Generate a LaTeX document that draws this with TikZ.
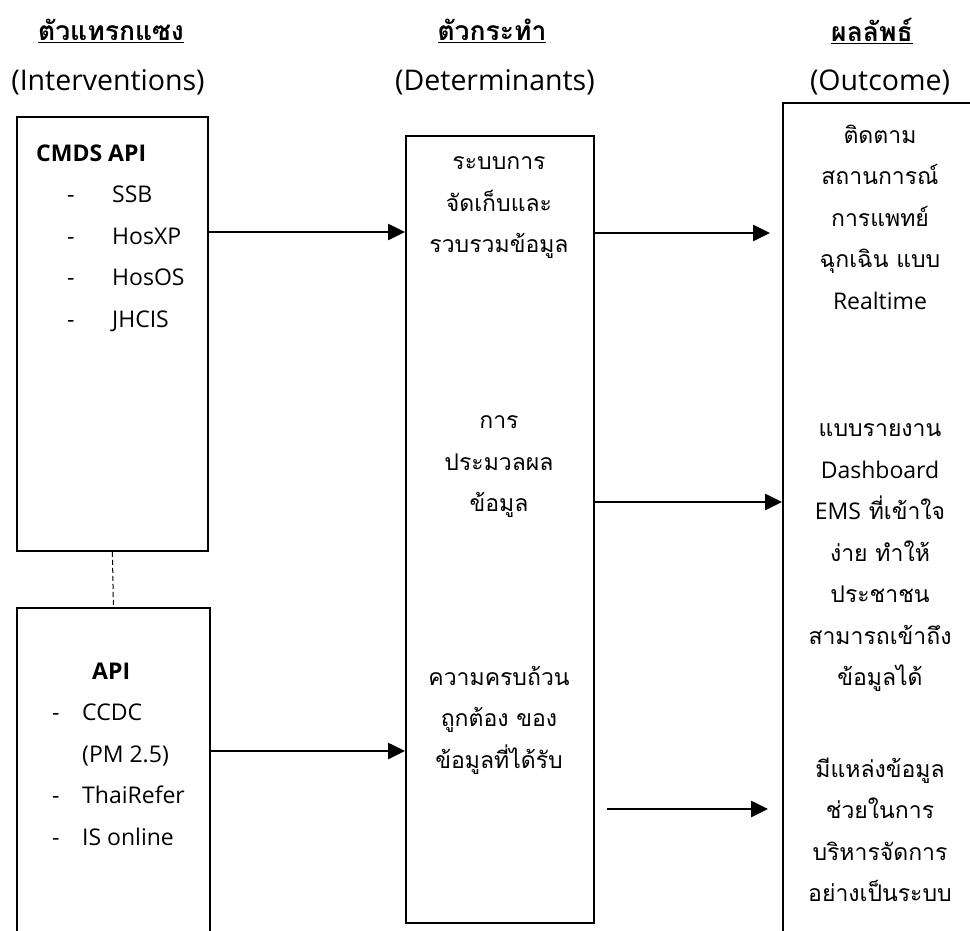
\documentclass[tikz,border=0pt]{standalone}
\usepackage{fontspec}
\setmainfont{Open Sans}
\newfontfamily\latfont{Open Sans}
\newfontfamily\thaifont[Script=Thai]{Loma}
\usetikzlibrary{arrows.meta}

\begin{document}
\begin{tikzpicture}[x=1pt,y=-1pt,
  box/.style={draw, line width=1.8pt, rectangle, inner sep=0pt, anchor=north west},
  conn/.style={line width=2.6pt, -{Triangle[length=17pt,width=16pt]}},
  body/.style={font=\fontsize{23}{41.5}\selectfont, align=center, inner sep=0pt},
  thaibody/.style={body, font=\fontsize{23}{41.5}\selectfont\thaifont},
  listtext/.style={font=\fontsize{23}{41.5}\selectfont, align=left, inner sep=0pt, anchor=west},
  head/.style={font=\fontsize{26.5}{30}\selectfont\thaifont\bfseries, inner sep=0pt},
  subhead/.style={font=\fontsize{28.5}{32}\selectfont, inner sep=0pt}]
\useasboundingbox (0,0) rectangle (970,931);
\clip (0,0) rectangle (970,931);

% column headings
\node[head] (h1) at (111,31) {\underline{ตัวแทรกแซง}};
\node[head] (h2) at (492,31) {\underline{ตัวกระทำ}};
\node[head] (h3) at (872,31) {\underline{ผลลัพธ์}};
\node[subhead] (s1) at (108,82) {(Interventions)};
\node[subhead] (s2) at (495,82) {(Determinants)};
\node[subhead] (s3) at (880,82) {(Outcome)};

% boxes
\node[box, minimum width=191pt, minimum height=434pt] (cmds) at (16,116) {};
\node[box, minimum width=193pt, minimum height=400pt] (api) at (16,607) {};
\node[box, minimum width=188pt, minimum height=787pt] (det) at (405,135) {};
\node[box, minimum width=330pt, minimum height=900pt] (out) at (782,102) {};

% intervention lists
\node[listtext] (cmdslist) at (36,238) {%
  {\bfseries CMDS API}\\
  \hspace*{31pt}\makebox[45pt][l]{-}SSB\\
  \hspace*{31pt}\makebox[45pt][l]{-}HosXP\\
  \hspace*{31pt}\makebox[45pt][l]{-}HosOS\\
  \hspace*{31pt}\makebox[45pt][l]{-}JHCIS};
\node[listtext] (apilist) at (52,754) {%
  \hspace*{40pt}{\bfseries API}\\
  \makebox[30pt][l]{-}CCDC\\
  \hspace*{30pt}(PM 2.5)\\
  \makebox[30pt][l]{-}ThaiRefer\\
  \makebox[30pt][l]{-}IS online};

% determinants
\node[thaibody] (deta) at (499,208) {ระบบการ\\จัดเก็บและ\\รวบรวมข้อมูล};
\node[thaibody] (detb) at (499,467) {การ\\ประมวลผล\\ข้อมูล};
\node[thaibody] (detc) at (499,720) {ความครบถ้วน\\ถูกต้อง ของ\\ข้อมูลที่ได้รับ};

% outcomes
\node[thaibody] (outa) at (880,217) {ติดตาม\\สถานการณ์\\การแพทย์\\ฉุกเฉิน แบบ\\{\latfont Realtime}};
\node[thaibody] (outb) at (880,558) {แบบรายงาน\\{\latfont Dashboard}\\{\latfont EMS} ที่เข้าใจ\\ง่าย ทำให้\\ประชาชน\\สามารถเข้าถึง\\ข้อมูลได้};
\node[thaibody] (outc) at (880,830) {มีแหล่งข้อมูล\\ช่วยในการ\\บริหารจัดการ\\อย่างเป็นระบบ};

% connectors
\draw[dashed, line width=1pt, dash pattern=on 5pt off 3pt] (cmds.south) -- (api.north);
\draw[conn] (cmds.east |- 0,232) -- (det.west |- 0,232);
\draw[conn, shorten >=12pt] (det.east |- 0,233) -- (out.west |- 0,233);
\draw[conn] (det.east |- 0,502) -- (out.west |- 0,502);
\draw[conn] (api.east |- 0,751) -- (det.west |- 0,751);
\draw[conn, shorten <=12pt, shorten >=14pt] (det.east |- 0,809) -- (out.west |- 0,809);
\end{tikzpicture}
\end{document}
